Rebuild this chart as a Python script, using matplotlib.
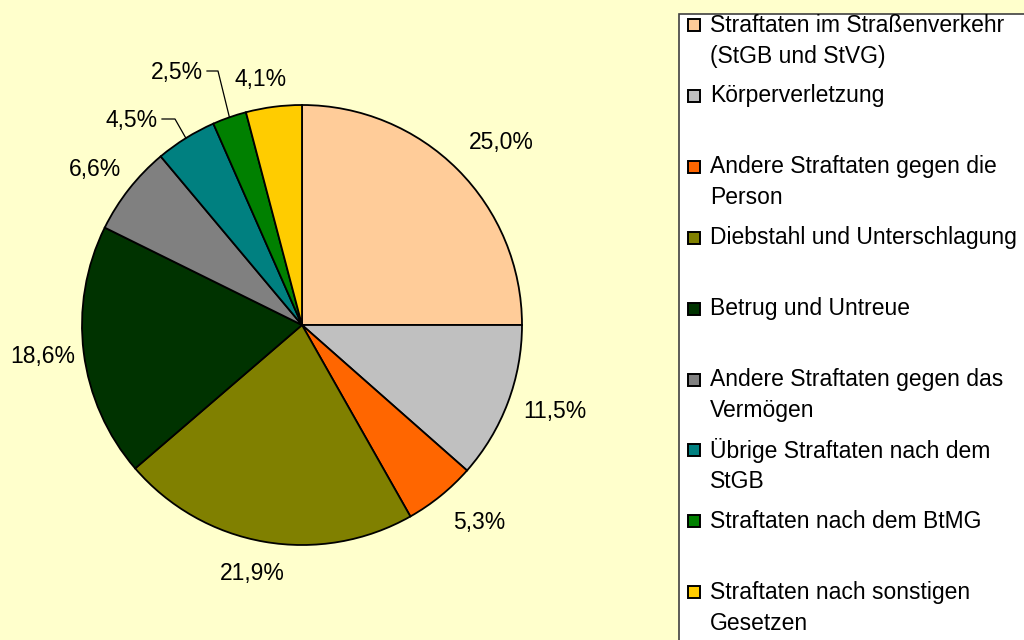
import numpy as np
import matplotlib.pyplot as plt
from matplotlib.patches import Rectangle

plt.rcParams['font.family'] = ['Liberation Sans', 'DejaVu Sans']

categories = [
    'Straftaten im Straßenverkehr\n(StGB und StVG)',
    'Körperverletzung',
    'Andere Straftaten gegen die\nPerson',
    'Diebstahl und Unterschlagung',
    'Betrug und Untreue',
    'Andere Straftaten gegen das\nVermögen',
    'Übrige Straftaten nach dem\nStGB',
    'Straftaten nach dem BtMG',
    'Straftaten nach sonstigen\nGesetzen',
]
shares = [25.0, 11.5, 5.3, 21.9, 18.6, 6.6, 4.5, 2.5, 4.1]
colors = ['#FFCC99', '#C0C0C0', '#FF6600', '#808000', '#003300',
          '#808080', '#008080', '#008000', '#FFCC00']

bg = '#FFFFCC'
W, H = 1024, 640
fs = 16.5
fig = plt.figure(figsize=(W / 100, H / 100), dpi=100, facecolor=bg)
ax = fig.add_axes([0, 0, 1, 1])

cx, cy, r = 302, H - 325, 220
wedges, _ = ax.pie(shares, colors=colors, startangle=90, counterclock=False,
                   center=(cx, cy), radius=r, frame=True,
                   wedgeprops=dict(edgecolor='black', linewidth=1.3))
ax.set_xlim(0, W)
ax.set_ylim(0, H)
ax.set_aspect('equal')
ax.axis('off')

# label placement: distance from centre (px) and small angle tweak (deg)
lab_dist = [270, 267, 265, 253, 261, 259, 0, 0, 249]
lab_dang = [-2.6, 1.9, 2.8, -1.5, -0.2, 1.2, 0, 0, 2.3]
# small slices: (right end of text, text y, knee x) in image px
leader = {6: (158, 120, 175), 7: (203, 72, 218)}

for i, (w, v) in enumerate(zip(wedges, shares)):
    mid = (w.theta1 + w.theta2) / 2
    txt = f'{v:.1f}%'.replace('.', ',')
    if i in leader:
        x_end, y_lab, x_knee = leader[i]
        a = np.deg2rad(mid)
        ex, ey = cx + r * np.cos(a), cy + r * np.sin(a)
        yl = H - y_lab + 1
        ax.plot([x_end + 4, x_knee, ex], [yl, yl, ey], color='black', lw=0.9)
        ax.text(x_end, H - y_lab, txt, ha='right', va='center', fontsize=fs)
    else:
        a = np.deg2rad(mid + lab_dang[i])
        d = lab_dist[i]
        ax.text(cx + d * np.cos(a), cy + d * np.sin(a), txt,
                ha='center', va='center', fontsize=fs)

# legend box
ax.add_patch(Rectangle((679, -5), 400, H - 14 + 5, facecolor='white',
                       edgecolor='#404040', linewidth=1.2))
y0 = 25
step = 70.9
line_h = 31
for i, (lab, c) in enumerate(zip(categories, colors)):
    y = y0 + i * step
    ax.add_patch(Rectangle((688, H - y - 6), 12, 12, facecolor=c,
                           edgecolor='black', linewidth=1.4))
    for k, part in enumerate(lab.split('\n')):
        ax.text(710, H - (y + k * line_h), part, ha='left', va='center',
                fontsize=fs)

fig.savefig('out.png', dpi=100, facecolor=bg)
